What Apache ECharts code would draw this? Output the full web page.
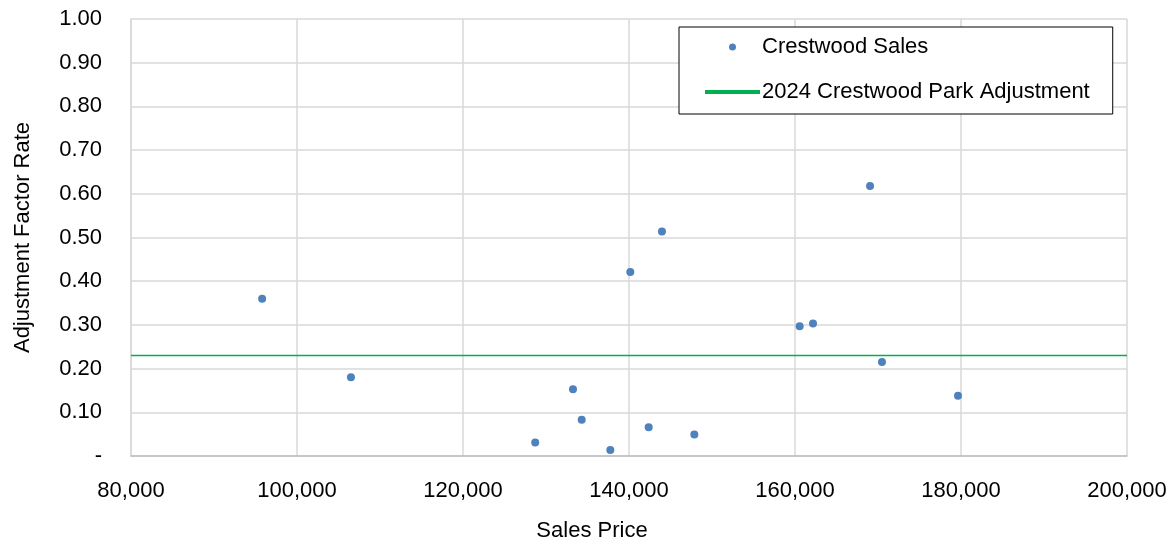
<!DOCTYPE html>
<html>
<head>
<meta charset="utf-8">
<script src="https://cdn.jsdelivr.net/npm/echarts@6/dist/echarts.min.js"></script>
<style>
  html, body { margin: 0; padding: 0; background: #fff; }
  #chart { width: 1174px; height: 544px; }
</style>
</head>
<body>
<div id="chart"></div>
<script>
// sales: price and adjustment factor rate
const salesPrice = [95800, 106500, 128700, 133250, 134300, 137750, 140160, 143970, 142370, 147870, 160560, 162170, 169040, 170480, 179640];
const adjRate = [0.360, 0.180, 0.031, 0.153, 0.083, 0.014, 0.421, 0.514, 0.066, 0.049, 0.297, 0.303, 0.618, 0.215, 0.138];

// 2024 adjustment line
const adjustX = [80000, 200000];
const adjustY = [0.23, 0.23];

const seriesNames = ['Crestwood Sales', '2024 Crestwood Park Adjustment'];

(function () {
  const chart = echarts.init(document.getElementById('chart'));
  const font = 'Liberation Sans';
  const gridColor = '#d9d9d9';

  const option = {
    animation: false,
    textStyle: { fontFamily: font },
    grid: { left: 131, right: 47, top: 19, bottom: 88, outerBoundsMode: 'none', containLabel: false },
    legend: {
      orient: 'vertical',
      left: 679,
      top: 27,
      padding: [9, 23, 11, 24],
      itemGap: 23,
      itemWidth: 55,
      itemHeight: 7,
      backgroundColor: '#fff',
      borderColor: '#000',
      borderWidth: 1,
      borderRadius: 0,
      textStyle: { fontFamily: font, fontSize: 22, color: '#000', padding: [0, 0, 0, -3] },
      data: [
        { name: seriesNames[0], icon: 'circle', itemStyle: { opacity: 1 } },
        { name: seriesNames[1], lineStyle: { width: 4 }, itemStyle: { opacity: 0 } }
      ]
    },
    xAxis: {
      type: 'value',
      min: 80000,
      max: 200000,
      interval: 20000,
      name: 'Sales Price',
      nameLocation: 'middle',
      nameGap: 64,
      nameTextStyle: { fontFamily: font, fontSize: 22, color: '#000', padding: [0, 74, 0, 0] },
      axisLine: { show: true, lineStyle: { color: '#bfbfbf', width: 1.5 } },
      axisTick: { show: false },
      axisLabel: {
        fontFamily: font, fontSize: 22, color: '#000', margin: 24,
        formatter: v => v.toLocaleString('en-US')
      },
      splitLine: { show: true, lineStyle: { color: gridColor, width: 1.5 } }
    },
    yAxis: {
      type: 'value',
      min: 0,
      max: 1,
      interval: 0.1,
      name: 'Adjustment Factor Rate',
      nameLocation: 'middle',
      nameGap: 97,
      nameTextStyle: { fontFamily: font, fontSize: 22, color: '#000' },
      axisLine: { show: true, lineStyle: { color: gridColor, width: 1.5 } },
      axisTick: { show: false },
      axisLabel: {
        fontFamily: font, fontSize: 22, color: '#000', margin: 29,
        formatter: v => (v === 0 ? '-' : v.toFixed(2))
      },
      splitLine: { show: true, lineStyle: { color: gridColor, width: 1.5 } }
    },
    series: [
      {
        name: seriesNames[0],
        type: 'scatter',
        symbol: 'circle',
        symbolSize: 8,
        itemStyle: { color: '#4F81BD', opacity: 1 },
        z: 3,
        data: salesPrice.map((x, i) => [x, adjRate[i]])
      },
      {
        name: seriesNames[1],
        type: 'line',
        symbol: 'none',
        lineStyle: { color: '#00B050', width: 1.5, opacity: 1 },
        itemStyle: { color: '#00B050' },
        z: 2,
        data: adjustX.map((x, i) => [x, adjustY[i]])
      }
    ]
  };

  chart.setOption(option);
  window.addEventListener('resize', function () {
    chart.resize();
  });
})();
</script>
</body>
</html>
